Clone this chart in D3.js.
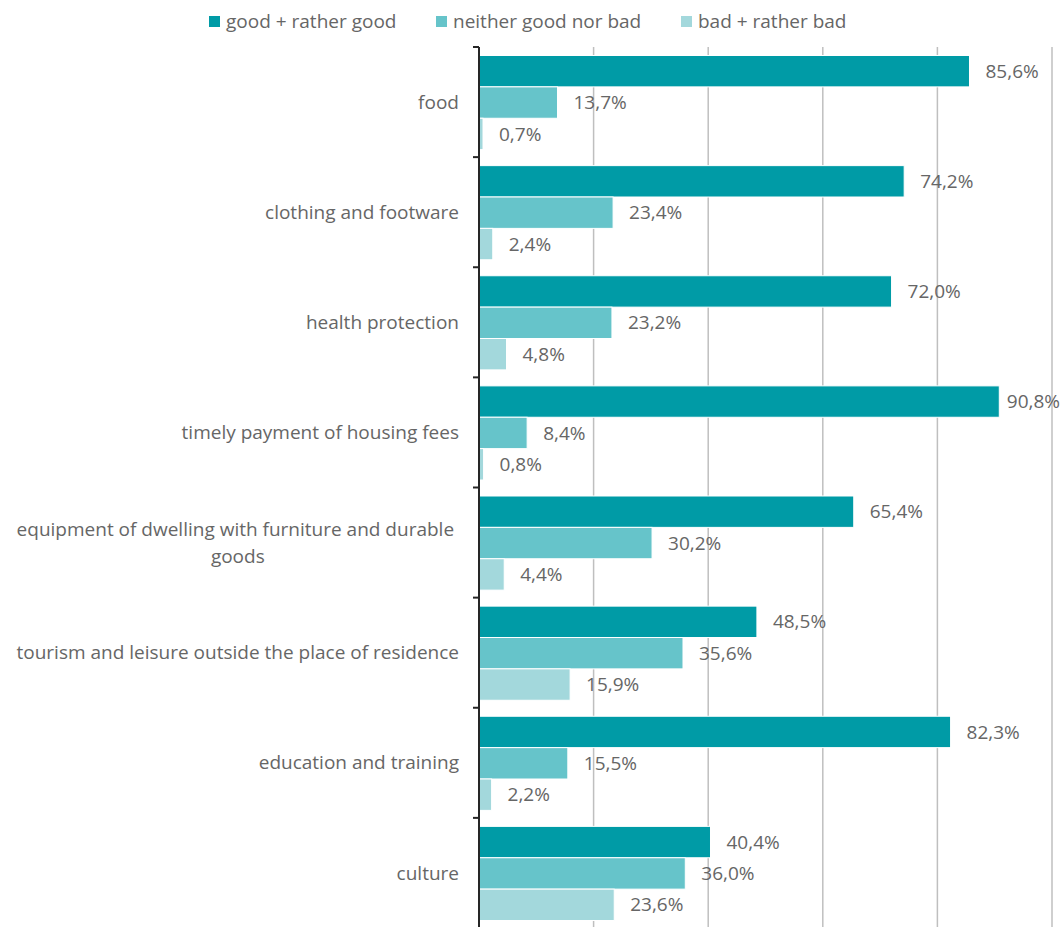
<!DOCTYPE html>
<html><head><meta charset="utf-8">
<script src="https://cdn.jsdelivr.net/npm/d3@7"></script>
<style>
html,body{margin:0;padding:0;background:#fff;}
svg{display:block;font-family:"Open Sans",Lato,sans-serif;}
</style></head>
<body>
<svg id="c" width="1061" height="927"></svg>
<script>
const categories = ["food","clothing and footware","health protection","timely payment of housing fees","equipment of dwelling with furniture and durable goods","tourism and leisure outside the place of residence","education and training","culture"];
const seriesNames = ["good + rather good","neither good nor bad","bad + rather bad"];
const goodValues = [85.6,74.2,72.0,90.8,65.4,48.5,82.3,40.4];
const neitherValues = [13.7,23.4,23.2,8.4,30.2,35.6,15.5,36.0];
const badValues = [0.7,2.4,4.8,0.8,4.4,15.9,2.2,23.6];
const gridTicks = [20,40,60,80,100];
const colors = ["#009BA6","#66C4CA","#A3D8DC"];
const textColor = "#666666";
const FS = 19;

const series = [goodValues, neitherValues, badValues];
const W = 1061, H = 927;
const svg = d3.select("#c");
const x = d3.scaleLinear().domain([0,100]).range([479,1052]);
const y = d3.scaleBand().domain(categories).range([47,928]).padding(0);
const inner = d3.scaleBand().domain(d3.range(3)).range([8.5, y.bandwidth()-7.5]).padding(0);

// grid
svg.append("g").selectAll("line").data(gridTicks).join("line")
  .attr("x1", d=>x(d)).attr("x2", d=>x(d))
  .attr("y1", 47).attr("y2", H)
  .attr("stroke","#BFBFBF").attr("stroke-width",1.5);

// bars
const rows = [];
categories.forEach((c,i)=>series.forEach((s,j)=>rows.push({c,j,v:s[i]})));
svg.append("g").selectAll("rect").data(rows).join("rect")
  .attr("x", x(0)).attr("y", d=>y(d.c)+inner(d.j))
  .attr("width", d=>x(d.v)-x(0)).attr("height", inner.bandwidth())
  .attr("fill", d=>colors[d.j]).attr("stroke","#fff").attr("stroke-width",1);

// value labels
const fmt = v => v.toFixed(1).replace(".", ",") + "%";
svg.append("g").selectAll("text").data(rows).join("text")
  .attr("y", d=>y(d.c)+inner(d.j)+inner.bandwidth()/2)
  .attr("dy","0.35em")
  .attr("font-size",FS).attr("fill",textColor)
  .text(d=>fmt(d.v))
  .each(function(d){
    const w = this.getComputedTextLength();
    let px = x(d.v)+16;
    if (px + w > W) px = W - w - 1;
    d3.select(this).attr("x", px);
  });

// y axis line and boundary ticks
const ax = svg.append("g");
ax.append("line").attr("x1",479).attr("x2",479).attr("y1",47).attr("y2",H)
  .attr("stroke","#262626").attr("stroke-width",2);
const bounds = categories.map(c=>y(c)).concat([y.range()[1]]);
ax.selectAll("line.t").data(bounds).join("line").attr("class","t")
  .attr("x1",473).attr("x2",479).attr("y1",d=>d).attr("y2",d=>d)
  .attr("stroke","#262626").attr("stroke-width",2);

// category labels
const labelLines = {"equipment of dwelling with furniture and durable goods":["equipment of dwelling with furniture and durable ","goods"]};
categories.forEach(c=>{
  const lines = labelLines[c] || [c];
  const cy = y(c)+y.bandwidth()/2;
  const t = svg.append("text").attr("font-size",FS).attr("fill",textColor).attr("text-anchor","middle").attr("xml:space","preserve");
  lines.forEach((l,k)=>{
    t.append("tspan").attr("y", cy + (k-(lines.length-1)/2)*27).attr("dy","0.35em").text(l);
  });
  let maxW = 0;
  t.selectAll("tspan").each(function(){maxW=Math.max(maxW,this.getComputedTextLength());});
  const cx = 459 - maxW/2;
  t.selectAll("tspan").attr("x", cx);
});

// legend
const legX = [209,436,681];
const lg = svg.append("g");
seriesNames.forEach((n,i)=>{
  lg.append("rect").attr("x",legX[i]).attr("y",16).attr("width",11).attr("height",11).attr("fill",colors[i]);
  lg.append("text").attr("x",legX[i]+17).attr("y",21.5).attr("dy","0.35em")
    .attr("font-size",FS).attr("fill",textColor).text(n);
});
</script>
</body></html>
